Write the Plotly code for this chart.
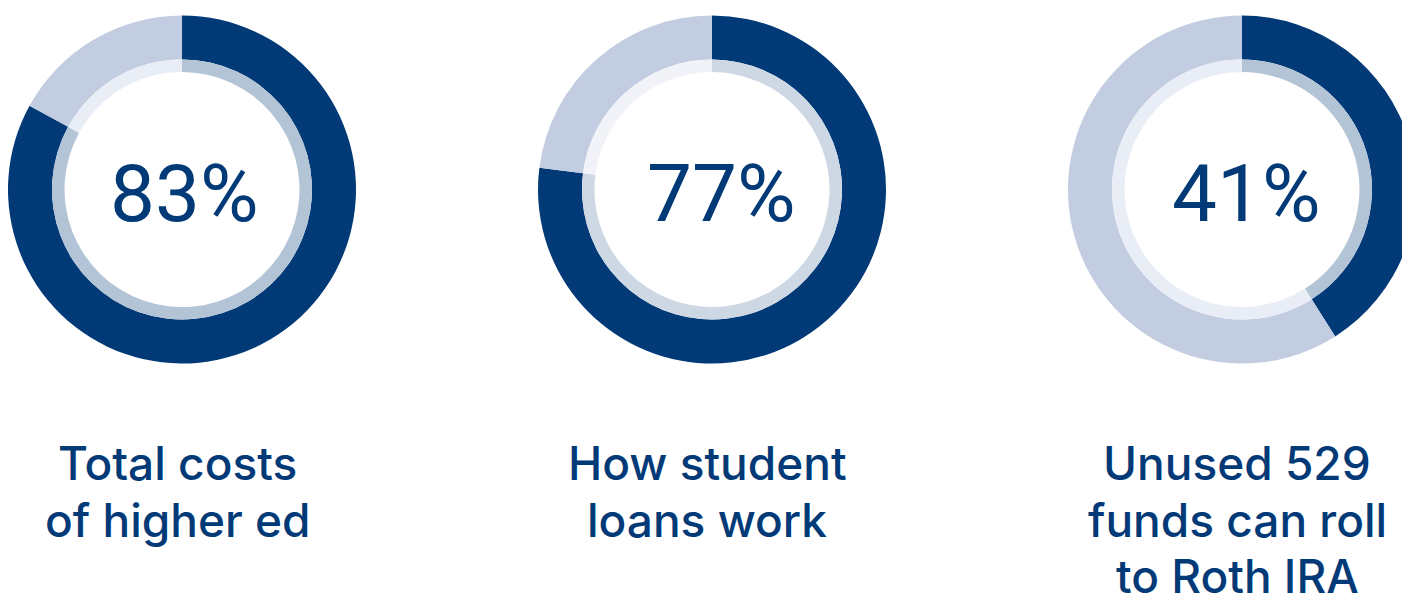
import plotly.graph_objects as go

# ---- data ----
values = [83, 77, 41]
pct_labels = ["83%", "77%", "41%"]
captions = [
    ["Total costs", "of higher ed"],
    ["How student", "loans work"],
    ["Unused 529", "funds can roll", "to Roth IRA"],
]

# ---- style ----
W, H = 1410, 597
NAVY = "#013a77"
OUTER_REST = "#c2cde1"
INNER_VALUE = ["#b3c4d6", "#cdd8e4", "#b3c4d6"]
INNER_REST = ["#e9edf5", "#f1f3f8", "#e9edf5"]

# donut geometry in figure pixels: (center x, outer radius, inner ring radius)
geom = [(174, 174, 130), (704, 174, 130), (1234, 174, 130)]
pct_x = [177, 714, 1238]
CY = 181.5
HOLE_R = 117.5

fig = go.Figure()


def dom(cx, cy, r):
    yb = H - cy
    return dict(x=[(cx - r) / W, (cx + r) / W],
                y=[(yb - r) / H, (yb + r) / H])


for i, v in enumerate(values):
    cx, ro, ri = geom[i]
    if cx + ro > W:  # keep the left edge, fit inside the paper
        left = cx - ro
        ro = (W - left) / 2
        cx = left + ro
    fig.add_trace(go.Pie(
        values=[v, 100 - v], sort=False, direction="clockwise", rotation=0,
        hole=ri / ro, textinfo="none", hoverinfo="skip", showlegend=False,
        marker=dict(colors=[NAVY, OUTER_REST], line=dict(width=0)),
        domain=dom(cx, CY, ro),
    ))
    fig.add_trace(go.Pie(
        values=[v, 100 - v], sort=False, direction="clockwise", rotation=0,
        hole=HOLE_R / ri, textinfo="none", hoverinfo="skip", showlegend=False,
        marker=dict(colors=[INNER_VALUE[i], INNER_REST[i]], line=dict(width=0)),
        domain=dom(cx, CY, ri),
    ))
    fig.add_annotation(
        x=pct_x[i] / W, y=(H - 186) / H, xref="paper", yref="paper",
        text=pct_labels[i], showarrow=False, xanchor="center", yanchor="middle",
        font=dict(family="Roboto", size=80, color=NAVY, weight=400),
    )
    for j, line in enumerate(captions[i]):
        fig.add_annotation(
            x=(geom[i][0] - 5) / W, y=(H - (455 + 56.5 * j)) / H, xref="paper", yref="paper",
            text=line, showarrow=False, xanchor="center", yanchor="middle",
            font=dict(family="Inter", size=46, color=NAVY, weight=500),
        )

fig.update_layout(
    width=W, height=H, margin=dict(l=0, r=0, t=0, b=0),
    paper_bgcolor="white", plot_bgcolor="white",
)

fig.write_html("out.html")
